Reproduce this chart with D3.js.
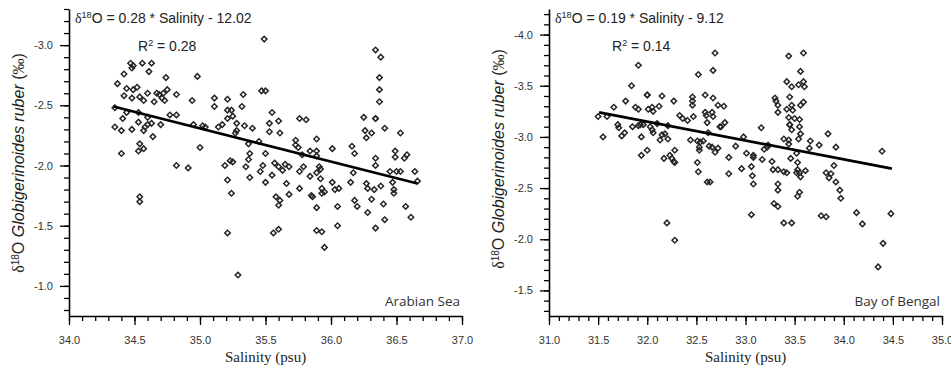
<!DOCTYPE html>
<html>
<head>
<meta charset="utf-8">
<script src="https://cdn.jsdelivr.net/npm/d3@7"></script>
<style>
  body { margin: 0; background: #fff; }
  svg { display: block; }
</style>
</head>
<body>
<svg id="chart" width="951" height="368"></svg>
<script>
// Arabian Sea: salinity (psu) and d18O G. ruber (permil), same order
var arabianSalinity = [
  34.37, 34.42, 34.47, 34.49, 34.48, 34.56, 34.63, 34.61, 34.74, 34.98,
  34.52, 34.44, 34.49, 34.42, 34.48, 34.54, 34.60, 34.67, 34.69, 34.72,
  34.71, 34.73, 34.75, 34.82, 34.65, 34.57, 34.94, 35.11, 35.21, 35.11,
  35.21, 35.25, 35.21, 34.35, 34.41, 34.44, 34.53, 34.60, 34.77, 34.82,
  34.95, 35.02, 35.04, 34.35, 34.60, 34.63, 34.40, 34.48, 34.53, 34.58,
  34.57, 34.70, 34.64, 34.54, 34.53, 34.57, 34.40, 35.00, 35.14, 35.17,
  35.28, 34.82, 34.91, 35.19, 35.23, 35.21, 35.24, 34.54, 34.54, 35.21,
  35.29, 35.95, 35.49, 36.34, 36.38, 36.37, 36.37, 36.37, 36.25, 36.34,
  36.34, 36.41, 35.47, 35.50, 35.33, 35.32, 35.24, 35.55, 35.53, 35.60,
  35.76, 35.81, 35.28, 35.34, 35.40, 35.27, 35.53, 35.61, 35.37, 35.45,
  35.38, 35.50, 35.73, 35.73, 35.75, 35.89, 35.84, 35.89, 35.89, 36.01,
  35.78, 36.16, 36.18, 36.26, 36.31, 36.27, 36.53, 36.34, 36.34, 36.49,
  36.49, 36.58, 36.56, 35.37, 35.35, 35.38, 35.25, 35.46, 35.48, 35.50,
  35.57, 35.60, 35.63, 35.65, 35.68, 35.55, 35.76, 35.79, 35.84, 35.89,
  35.91, 35.92, 35.92, 36.01, 35.66, 35.76, 35.93, 35.95, 35.93, 36.03,
  36.06, 36.15, 36.17, 36.27, 36.28, 36.33, 36.38, 36.45, 36.50, 36.53,
  36.47, 36.64, 36.66, 36.48, 36.48, 35.58, 35.61, 35.60, 35.68, 35.85,
  35.86, 35.89, 36.05, 36.18, 36.20, 36.31, 36.40, 36.28, 36.57, 36.61,
  36.41, 36.34, 36.05, 35.56, 35.60, 35.89, 35.93
];
var arabianD18O = [
  -2.68, -2.76, -2.85, -2.83, -2.81, -2.85, -2.85, -2.78, -2.73, -2.74,
  -2.65, -2.64, -2.63, -2.58, -2.56, -2.57, -2.60, -2.60, -2.59, -2.60,
  -2.56, -2.54, -2.63, -2.59, -2.53, -2.54, -2.54, -2.56, -2.55, -2.49,
  -2.46, -2.41, -2.39, -2.48, -2.39, -2.44, -2.44, -2.40, -2.42, -2.42,
  -2.34, -2.33, -2.32, -2.32, -2.34, -2.35, -2.29, -2.30, -2.36, -2.32,
  -2.29, -2.34, -2.24, -2.18, -2.12, -2.14, -2.10, -2.15, -2.32, -2.34,
  -2.29, -2.00, -1.98, -2.00, -2.04, -1.88, -1.77, -1.74, -1.70, -1.44,
  -1.09, -1.32, -3.05, -2.96, -2.90, -2.73, -2.63, -2.53, -2.40, -2.39,
  -2.39, -2.31, -2.62, -2.62, -2.59, -2.49, -2.46, -2.44, -2.35, -2.37,
  -2.39, -2.38, -2.35, -2.33, -2.31, -2.27, -2.28, -2.27, -2.18, -2.20,
  -2.10, -2.10, -2.21, -2.17, -2.15, -2.22, -2.12, -2.12, -2.08, -2.14,
  -2.09, -2.16, -2.10, -2.29, -2.27, -2.23, -2.27, -2.06, -2.00, -2.12,
  -2.07, -2.09, -2.06, -2.05, -1.99, -1.90, -2.03, -1.95, -2.00, -1.86,
  -2.02, -1.99, -1.96, -2.01, -1.99, -1.92, -1.95, -1.99, -1.91, -1.94,
  -1.99, -1.97, -1.89, -1.86, -1.85, -1.81, -1.81, -1.78, -1.77, -1.80,
  -1.81, -1.86, -1.94, -1.85, -1.81, -1.80, -1.83, -1.95, -1.95, -1.95,
  -1.86, -1.95, -1.87, -1.80, -1.77, -1.74, -1.71, -1.67, -1.76, -1.75,
  -1.74, -1.65, -1.66, -1.71, -1.66, -1.72, -1.68, -1.61, -1.66, -1.57,
  -1.55, -1.48, -1.50, -1.44, -1.47, -1.46, -1.45
];
// regression line end points
var arabianFitSalinity = [34.34, 36.66];
var arabianFitD18O = [-2.49, -1.85];

// Bay of Bengal
var bengalSalinity = [
  31.91, 32.52, 31.84, 32.00, 32.00, 32.15, 31.78, 31.88, 31.91, 32.01,
  32.05, 32.06, 32.12, 32.27, 32.46, 32.46, 32.46, 32.59, 31.66, 31.50,
  31.59, 32.33, 32.36, 32.47, 32.59, 32.60, 31.70, 31.85, 31.91, 31.96,
  32.03, 32.10, 32.21, 31.55, 31.71, 31.74, 31.77, 31.93, 32.05, 32.06,
  31.94, 31.94, 32.00, 32.13, 32.15, 32.18, 32.21, 32.17, 32.23, 32.25,
  32.27, 32.28, 32.28, 32.44, 32.51, 32.54, 32.57, 32.53, 32.53, 32.61,
  32.62, 32.63, 32.51, 32.52, 32.61, 32.20, 32.28, 32.41, 32.69, 32.67,
  32.67, 32.72, 32.78, 32.66, 32.67, 32.79, 32.74, 33.16, 33.44, 33.59,
  33.56, 33.42, 33.47, 33.54, 33.59, 33.60, 33.30, 33.31, 33.33, 33.45,
  33.47, 33.56, 33.59, 33.42, 33.48, 33.33, 33.44, 33.50, 33.55, 33.45,
  33.45, 33.55, 32.75, 33.47, 33.56, 33.54, 33.39, 33.44, 33.44, 33.66,
  33.65, 33.75, 33.84, 33.92, 32.98, 32.90, 32.72, 32.69, 32.66, 33.01,
  33.08, 33.08, 32.83, 33.17, 33.19, 33.22, 33.23, 33.46, 33.52, 33.27,
  33.06, 32.96, 33.28, 33.33, 33.39, 33.42, 33.53, 33.52, 33.53, 33.55,
  33.56, 33.61, 32.83, 33.07, 33.08, 33.33, 33.33, 33.82, 33.85, 33.87,
  33.90, 33.92, 33.96, 33.97, 33.55, 33.53, 33.29, 33.33, 33.06, 33.39,
  33.47, 33.77, 33.82, 34.13, 34.19, 34.39, 34.48, 34.40, 34.35, 32.64
];
var bengalD18O = [
  -3.70, -3.61, -3.50, -3.41, -3.41, -3.40, -3.35, -3.29, -3.27, -3.27,
  -3.29, -3.25, -3.30, -3.35, -3.39, -3.35, -3.31, -3.41, -3.29, -3.20,
  -3.20, -3.21, -3.18, -3.20, -3.24, -3.21, -3.12, -3.10, -3.11, -3.12,
  -3.10, -3.13, -3.11, -3.00, -3.09, -3.01, -3.04, -3.12, -3.07, -3.04,
  -3.00, -2.82, -2.87, -2.97, -3.02, -3.03, -2.98, -2.79, -2.82, -2.79,
  -2.76, -2.87, -2.75, -2.97, -2.96, -2.95, -2.96, -2.90, -2.87, -3.14,
  -3.04, -2.91, -2.75, -2.66, -2.56, -2.16, -1.99, -3.16, -3.82, -3.65,
  -3.38, -3.31, -3.30, -3.24, -3.20, -3.14, -3.10, -3.09, -3.79, -3.82,
  -3.64, -3.54, -3.49, -3.51, -3.54, -3.49, -3.38, -3.35, -3.31, -3.39,
  -3.31, -3.31, -3.34, -3.27, -3.26, -3.24, -3.19, -3.18, -3.17, -3.12,
  -3.12, -3.10, -3.10, -3.07, -3.03, -2.98, -2.98, -2.97, -2.93, -2.96,
  -2.89, -2.92, -3.03, -2.90, -3.00, -2.91, -2.89, -2.85, -2.90, -2.84,
  -2.82, -2.80, -2.80, -2.78, -2.88, -2.90, -2.92, -2.79, -2.84, -2.76,
  -2.71, -2.69, -2.68, -2.68, -2.66, -2.65, -2.75, -2.65, -2.68, -2.65,
  -2.61, -2.67, -2.64, -2.62, -2.54, -2.54, -2.48, -2.65, -2.60, -2.64,
  -2.72, -2.56, -2.48, -2.40, -2.46, -2.42, -2.35, -2.32, -2.24, -2.16,
  -2.16, -2.23, -2.22, -2.26, -2.15, -2.86, -2.25, -1.96, -1.73, -2.56
];
var bengalFitSalinity = [31.51, 34.49];
var bengalFitD18O = [-3.24, -2.69];

// axis ticks (labelled)
var arabianXTicks = [34.0, 34.5, 35.0, 35.5, 36.0, 36.5, 37.0];
var arabianYTicks = [-3.0, -2.5, -2.0, -1.5, -1.0];
var bengalXTicks = [31.0, 31.5, 32.0, 32.5, 33.0, 33.5, 34.0, 34.5, 35.0];
var bengalYTicks = [-4.0, -3.5, -3.0, -2.5, -2.0, -1.5];

var sansFont = '"Liberation Sans", Arial, sans-serif';
var serifFont = '"Liberation Serif", "Times New Roman", serif';

var svg = d3.select('#chart');
var axisY = 316, axisTop = 9;

function minorTicks(domain) {
    var lo = Math.min(domain[0], domain[1]), hi = Math.max(domain[0], domain[1]);
    return d3.range(Math.ceil(lo * 10 - 1e-6), Math.floor(hi * 10 + 1e-6) + 1).map(function(v) { return v / 10; });
}

function styleAxis(sel) {
    sel.selectAll('.domain').attr('stroke', '#000').attr('stroke-width', 1.6);
    sel.selectAll('.tick line').attr('stroke', '#000').attr('stroke-width', 1.3);
    sel.selectAll('.tick text')
        .attr('fill', '#333')
        .style('font-family', sansFont)
        .style('font-size', '11px');
}

function drawPanel(p) {
    var x = d3.scaleLinear().domain(p.xDomain).range(p.xRange);
    var y = d3.scaleLinear().domain(p.yDomain).range([axisY, axisTop]);
    var g = svg.append('g');
    var fmt = function(d) { return d.toFixed(1); };

    // minor ticks first
    g.append('g')
        .attr('transform', 'translate(0,' + axisY + ')')
        .call(d3.axisBottom(x).tickValues(minorTicks(p.xDomain)).tickSize(5).tickFormat(''))
        .call(styleAxis)
        .select('.domain').remove();
    g.append('g')
        .attr('transform', 'translate(' + p.xRange[0] + ',0)')
        .call(d3.axisLeft(y).tickValues(minorTicks(p.yDomain)).tickSize(5).tickFormat(''))
        .call(styleAxis)
        .select('.domain').remove();

    // major ticks + axis lines
    g.append('g')
        .attr('transform', 'translate(0,' + axisY + ')')
        .call(d3.axisBottom(x).tickValues(p.xTicks).tickSize(9).tickSizeOuter(0).tickPadding(11).tickFormat(fmt))
        .call(styleAxis);
    g.append('g')
        .attr('transform', 'translate(' + p.xRange[0] + ',0)')
        .call(d3.axisLeft(y).tickValues(p.yTicks).tickSize(9).tickSizeOuter(0).tickPadding(7).tickFormat(fmt))
        .call(styleAxis);

    // samples
    var pts = p.salinity.map(function(s, i) { return [s, p.d18o[i]]; });
    g.append('g')
        .selectAll('path')
        .data(pts)
        .enter()
        .append('path')
        .attr('d', d3.symbol(d3.symbolSquare, 15))
        .attr('transform', function(d) { return 'translate(' + x(d[0]) + ',' + y(d[1]) + ') rotate(45)'; })
        .attr('fill', 'none')
        .attr('stroke', '#262626')
        .attr('stroke-width', 1.5);

    // regression line
    g.append('line')
        .attr('x1', x(p.fitS[0])).attr('y1', y(p.fitD[0]))
        .attr('x2', x(p.fitS[1])).attr('y2', y(p.fitD[1]))
        .attr('stroke', '#000')
        .attr('stroke-width', 2.6);

    // equation and R2
    var eq = g.append('text')
        .attr('x', p.xRange[0] + 6).attr('y', 23)
        .attr('fill', '#222')
        .style('font-family', sansFont)
        .style('font-size', '14px');
    eq.append('tspan').style('font-family', serifFont).text('δ');
    eq.append('tspan').attr('dy', -5).style('font-size', '9px').text('18');
    eq.append('tspan').attr('dy', 5).text('O = ' + p.equation);

    var r2 = g.append('text')
        .attr('x', p.xRange[0] + p.r2Offset).attr('y', 51)
        .attr('fill', '#222')
        .style('font-family', sansFont)
        .style('font-size', '14px');
    r2.append('tspan').text('R');
    r2.append('tspan').attr('dy', -5).style('font-size', '9px').text('2');
    r2.append('tspan').attr('dy', 5).text(' = ' + p.r2);

    // region label
    g.append('text')
        .attr('x', p.xRange[1] - 2).attr('y', 306)
        .attr('text-anchor', 'end')
        .attr('fill', '#333')
        .style('font-family', '"Open Sans", sans-serif')
        .style('font-size', '13.5px')
        .text(p.region);

    // x title
    g.append('text')
        .attr('x', (p.xRange[0] + p.xRange[1]) / 2).attr('y', 362)
        .attr('text-anchor', 'middle')
        .attr('fill', '#222')
        .style('font-family', serifFont)
        .style('font-size', '15px')
        .text('Salinity (psu)');

    // y title
    var yt = g.append('text')
        .attr('transform', 'translate(' + (p.xRange[0] - 45) + ',' + p.yTitleMid + ') rotate(-90)')
        .attr('text-anchor', 'middle')
        .attr('fill', '#222')
        .style('font-family', sansFont)
        .style('font-size', '16px');
    yt.append('tspan').style('font-family', serifFont).text('δ');
    yt.append('tspan').attr('dy', -5).style('font-size', '10px').text('18');
    yt.append('tspan').attr('dy', 5).text('O ');
    yt.append('tspan').style('font-style', 'italic').text('Globigerinoides ruber');
    yt.append('tspan').text(' (');
    yt.append('tspan').style('font-family', serifFont).text('‰');
    yt.append('tspan').text(')');
}

drawPanel({
    xDomain: [34, 37], xRange: [69, 462], yDomain: [-0.75, -3.3],
    xTicks: arabianXTicks, yTicks: arabianYTicks,
    salinity: arabianSalinity, d18o: arabianD18O,
    fitS: arabianFitSalinity, fitD: arabianFitD18O,
    equation: '0.28 * Salinity - 12.02', r2: '0.28', r2Offset: 69,
    region: 'Arabian Sea', yTitleMid: 163
});

drawPanel({
    xDomain: [31, 35], xRange: [549, 942], yDomain: [-1.25, -4.25],
    xTicks: bengalXTicks, yTicks: bengalYTicks,
    salinity: bengalSalinity, d18o: bengalD18O,
    fitS: bengalFitSalinity, fitD: bengalFitD18O,
    equation: '0.19 * Salinity - 9.12', r2: '0.14', r2Offset: 63,
    region: 'Bay of Bengal', yTitleMid: 159
});
</script>
</body>
</html>
